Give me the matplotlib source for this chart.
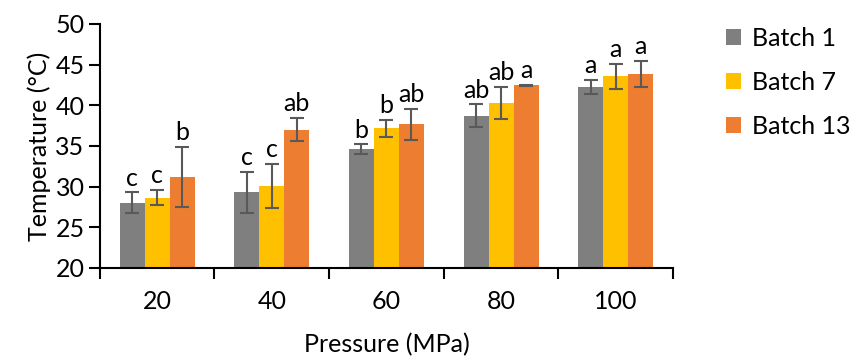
import matplotlib
matplotlib.use("Agg")
import matplotlib.pyplot as plt
import numpy as np

plt.rcParams['font.family'] = ['Lato', 'DejaVu Sans']

pressures = ["20", "40", "60", "80", "100"]
series = ["Batch 1", "Batch 7", "Batch 13"]
batch1 = [28.0, 29.3, 34.6, 38.7, 42.25]
batch7 = [28.65, 30.1, 37.15, 40.25, 43.55]
batch13 = [31.2, 37.0, 37.65, 42.45, 43.85]
err1 = [1.3, 2.55, 0.6, 1.4, 0.9]
err7 = [0.95, 2.7, 1.05, 2.0, 1.55]
err13 = [3.65, 1.45, 1.9, 0.05, 1.6]
letters1 = ["c", "c", "b", "ab", "a"]
letters7 = ["c", "c", "b", "ab", "a"]
letters13 = ["b", "ab", "ab", "a", "a"]
colors = ["#7F7F7F", "#FFC000", "#ED7D31"]

FS = 18
fig = plt.figure(figsize=(8.53, 3.59), dpi=100)
ax = fig.add_axes([0.117, 0.2535, 0.672, 0.68])

x = np.arange(len(pressures))
w = 0.218
vals = [batch1, batch7, batch13]
errs = [err1, err7, err13]
lets = [letters1, letters7, letters13]
for i, (v, e, l, c, s) in enumerate(zip(vals, errs, lets, colors, series)):
    pos = x + (i - 1) * w
    ax.bar(pos, v, width=w, color=c, label=s, zorder=2)
    ax.errorbar(pos, v, yerr=e, fmt='none', ecolor="#595959", elinewidth=1.5,
                capsize=5, capthick=1.5, zorder=3)
    for p, vv, ee, ll in zip(pos, v, e, l):
        ax.annotate(ll, (p, vv + ee), xytext=(0, 2), textcoords='offset points',
                    ha='center', va='bottom', fontsize=FS)

ax.set_xlim(-0.5, len(pressures) - 0.5)
ax.set_ylim(20, 50)
ax.set_yticks(range(20, 51, 5))
ax.set_xticks(x)
ax.set_xticklabels(pressures, fontsize=FS)
ax.set_xticks(np.arange(-0.5, len(pressures), 1.0), minor=True)
ax.tick_params(axis='x', which='major', length=0, pad=16)
ax.tick_params(axis='x', which='minor', length=8, width=1.5, direction='out')
ax.tick_params(axis='y', labelsize=FS, length=8, width=1.5, direction='out', pad=3)
for sp in ['top', 'right']:
    ax.spines[sp].set_visible(False)
for sp in ['left', 'bottom']:
    ax.spines[sp].set_linewidth(1.5)
ax.set_ylabel("Temperature (°C)", fontsize=FS, labelpad=3)
ax.set_xlabel("Pressure (MPa)", fontsize=FS, labelpad=14)

leg = ax.legend(loc='upper left', bbox_to_anchor=(1.075, 1.03), frameon=False,
                fontsize=FS, handlelength=0.6, handleheight=0.6, handletextpad=0.45,
                labelspacing=0.85, borderaxespad=0)

fig.savefig("out.png", dpi=100)
